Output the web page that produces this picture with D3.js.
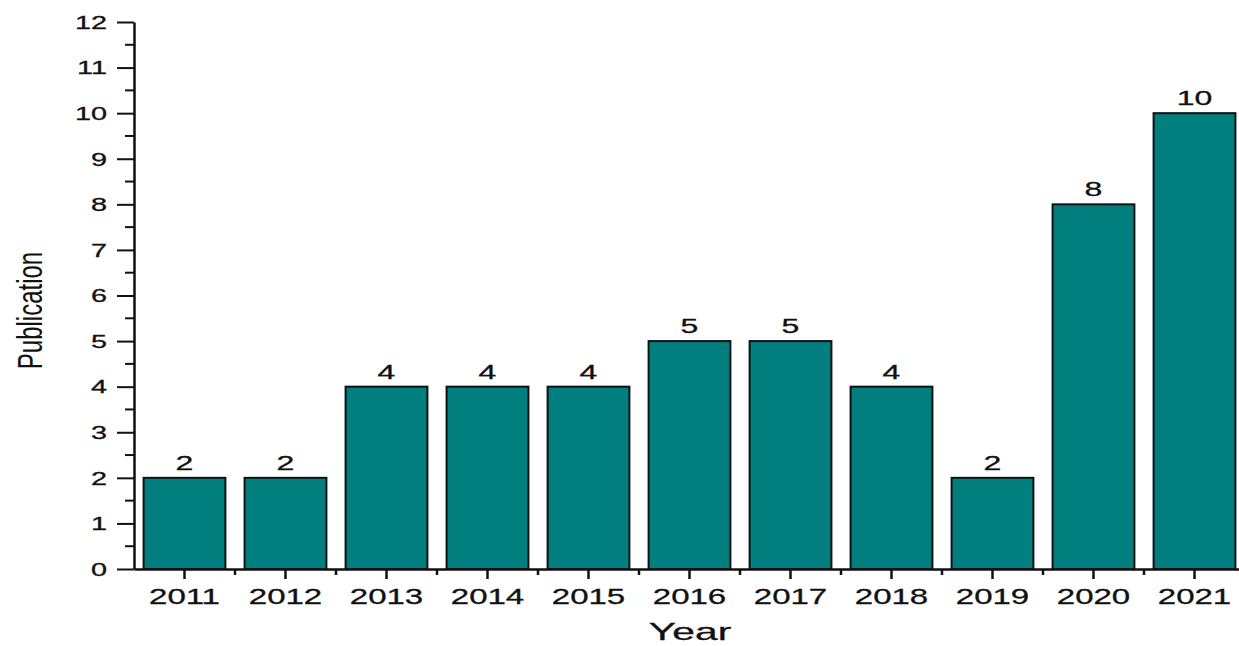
<!DOCTYPE html>
<html>
<head>
<meta charset="utf-8">
<script src="https://cdn.jsdelivr.net/npm/d3@7"></script>
<style>
  body { margin: 0; background: #fff; }
  text { font-family: "Liberation Sans", Arial, sans-serif; fill: #111; }
</style>
</head>
<body>
<div id="chart"></div>
<script>
// data
const years = ["2011", "2012", "2013", "2014", "2015", "2016", "2017", "2018", "2019", "2020", "2021"];
const publications = [2, 2, 4, 4, 4, 5, 5, 4, 2, 8, 10];
const yTicks = [0, 1, 2, 3, 4, 5, 6, 7, 8, 9, 10, 11, 12];

let w = 1239;
let h = 646;
let margin = {top: 22, right: -6, bottom: 77, left: 134};

const svg = d3.select("#chart")
    .append("svg")
    .attr("width", w)
    .attr("height", h);

let xScale = d3.scaleBand()
    .domain(years)
    .range([margin.left, w - margin.right])
    .paddingInner(0.19)
    .paddingOuter(0.095);

let yScale = d3.scaleLinear()
    .domain([0, 12])
    .range([h - margin.bottom, margin.top]);

let step = xScale.step();

// bars
svg.selectAll("rect.bar")
    .data(years)
    .enter()
    .append("rect")
    .attr("class", "bar")
    .attr("x", (d) => xScale(d))
    .attr("y", (d, i) => yScale(publications[i]))
    .attr("width", xScale.bandwidth())
    .attr("height", (d, i) => yScale(0) - yScale(publications[i]))
    .attr("fill", "#017f7f")
    .attr("stroke", "#111")
    .attr("stroke-width", 2);

// value labels
svg.selectAll("text.value")
    .data(years)
    .enter()
    .append("text")
    .attr("class", "value")
    .attr("text-anchor", "middle")
    .attr("font-size", "20px")
    .attr("stroke", "#111")
    .attr("stroke-width", 0.3)
    .attr("transform", (d, i) => `translate(${xScale(d) + xScale.bandwidth() / 2},${yScale(publications[i]) - 8}) scale(1.6,1)`)
    .text((d, i) => publications[i]);

// y axis
const yAxis = svg.append("g")
    .attr("transform", `translate(${margin.left},0)`)
    .call(d3.axisLeft(yScale).tickValues(yTicks).tickSize(17).tickSizeOuter(0).tickFormat(d3.format("d")));
yAxis.select(".domain").attr("stroke", "#111").attr("stroke-width", 2.5);
yAxis.selectAll(".tick line").attr("stroke", "#111").attr("stroke-width", 2);
yAxis.selectAll(".tick text")
    .attr("x", 0)
    .attr("dy", "0.35em")
    .attr("font-size", "18px")
    .attr("fill", "#111")
    .attr("stroke", "#111")
    .attr("stroke-width", 0.3)
    .attr("transform", "translate(-27,0) scale(1.6,1)");

// y minor ticks
svg.selectAll("line.yminor")
    .data(yTicks.slice(0, -1))
    .enter()
    .append("line")
    .attr("x1", margin.left - 9)
    .attr("x2", margin.left)
    .attr("y1", (d) => yScale(d + 0.5))
    .attr("y2", (d) => yScale(d + 0.5))
    .attr("stroke", "#111")
    .attr("stroke-width", 2);

// x axis
const xAxis = svg.append("g")
    .attr("transform", `translate(0,${yScale(0)})`)
    .call(d3.axisBottom(xScale).tickSize(10).tickSizeOuter(0));
xAxis.select(".domain").attr("stroke", "#111").attr("stroke-width", 2.5);
xAxis.selectAll(".tick line").attr("stroke", "#111").attr("stroke-width", 2.5);
xAxis.selectAll(".tick text")
    .attr("y", 0)
    .attr("dy", 0)
    .attr("font-size", "22px")
    .attr("fill", "#111")
    .attr("stroke", "#111")
    .attr("stroke-width", 0.3)
    .attr("transform", "translate(0,35) scale(1.5,1)");

// x minor ticks between categories
svg.selectAll("line.xminor")
    .data(years.slice(1))
    .enter()
    .append("line")
    .attr("x1", (d) => xScale(d) - (step - xScale.bandwidth()) / 2)
    .attr("x2", (d) => xScale(d) - (step - xScale.bandwidth()) / 2)
    .attr("y1", yScale(0))
    .attr("y2", yScale(0) + 6)
    .attr("stroke", "#111")
    .attr("stroke-width", 2.5);

// axis titles
svg.append("text")
    .attr("text-anchor", "middle")
    .attr("font-size", "24px")
    .attr("stroke", "#111")
    .attr("stroke-width", 0.3)
    .attr("transform", `translate(690,640) scale(1.7,1)`)
    .text("Year");

svg.append("text")
    .attr("text-anchor", "middle")
    .attr("font-size", "24px")
    .attr("transform", `translate(42,${(yScale(0) + yScale(12)) / 2 + 15}) scale(1.45,1) rotate(-90)`)
    .text("Publication");
</script>
</body>
</html>
